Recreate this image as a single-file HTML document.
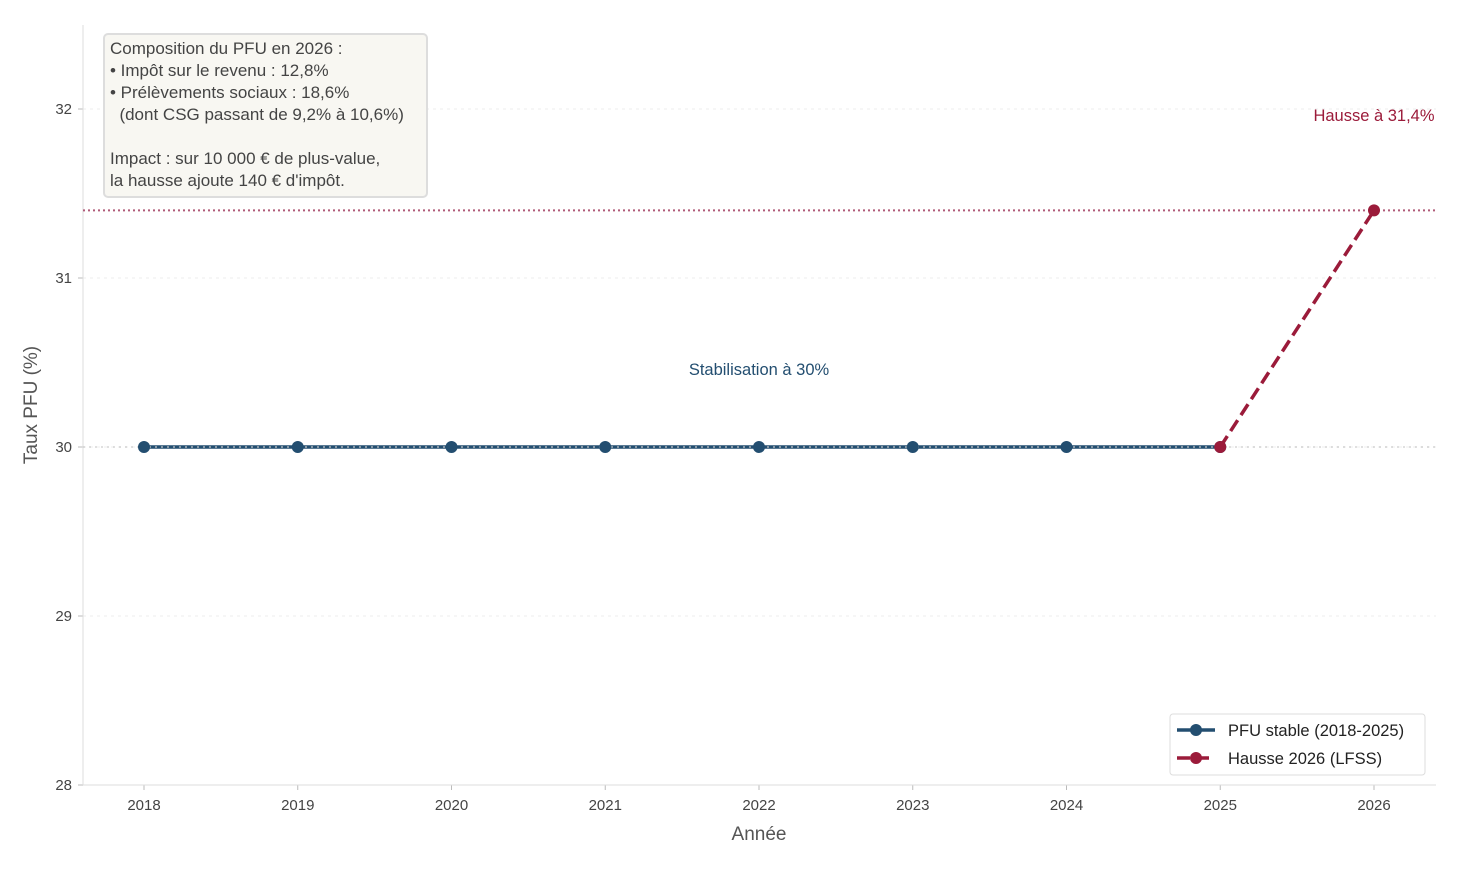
<!DOCTYPE html>
<html><head><meta charset="utf-8"><style>
body{margin:0;background:#fff;}
svg{display:block;font-family:"Liberation Sans",sans-serif;}
text{white-space:pre;}
</style></head><body>
<svg id="chart" width="1470" height="884"></svg>
<script>
const years=[2018,2019,2020,2021,2022,2023,2024,2025,2026];
const stableYears=[2018,2019,2020,2021,2022,2023,2024,2025];
const stableVals=[30,30,30,30,30,30,30,30];
const hausseYears=[2025,2026];
const hausseVals=[30,31.4];
const yTicks=[28,29,30,31,32];
const NS="http://www.w3.org/2000/svg";
const svg=document.getElementById('chart');
const X=y=>144+(y-2018)*153.75;
const Y=v=>785-(v-28)*169;
function el(t,a,p){const e=document.createElementNS(NS,t);for(const k in a)e.setAttribute(k,a[k]);(p||svg).appendChild(e);return e;}
function txt(s,a){const e=el('text',a);e.textContent=s;return e;}
yTicks.forEach(v=>{
 const g=el('line',{x1:83,x2:1436,y1:Y(v),y2:Y(v),stroke:'#eeeeee','stroke-dasharray':'3,4','stroke-width':1});
 
 
 el('line',{x1:78,x2:83,y1:Y(v),y2:Y(v),stroke:'#bbb'});
 const t=txt(String(v),{x:72,y:Y(v)+5,'text-anchor':'end','font-size':15,fill:'#444'});
 
 
});
years.forEach(y=>{
 el('line',{x1:X(y),x2:X(y),y1:785,y2:790,stroke:'#bbb'});
 const t=txt(String(y),{x:X(y),y:810,'text-anchor':'middle','font-size':15,fill:'#444'});
 
 
});
el('line',{x1:83,x2:83,y1:25,y2:785,stroke:'#ddd'});
el('line',{x1:83,x2:1436,y1:785,y2:785,stroke:'#ddd'});
const xt=txt('Année',{x:759,y:840,'text-anchor':'middle','font-size':19,fill:'#555'});


const yt=txt('Taux PFU (%)',{x:0,y:0,transform:'translate(37,405) rotate(-90)','text-anchor':'middle','font-size':19,fill:'#555'});


const rl=el('line',{x1:83,x2:1436,y1:Y(31.4),y2:Y(31.4),stroke:'#b05a78','stroke-dasharray':'2,3','stroke-width':2});


const sp=el('polyline',{points:stableYears.map((y,i)=>X(y)+','+Y(stableVals[i])).join(' '),fill:'none',stroke:'#234e70','stroke-width':3.5});


el('line',{x1:83,x2:1436,y1:Y(30),y2:Y(30),stroke:'#ccc','stroke-dasharray':'2,4','stroke-width':2,opacity:0.6});
stableYears.forEach((y,i)=>{
 const c=el('circle',{cx:X(y),cy:Y(stableVals[i]),r:6,fill:'#234e70'});
 
 
});
const hp=el('polyline',{points:hausseYears.map((y,i)=>X(y)+','+Y(hausseVals[i])).join(' '),fill:'none',stroke:'#9b1b3a','stroke-width':3.5,'stroke-dasharray':'13,6'});


hausseYears.forEach((y,i)=>{
 const c=el('circle',{cx:X(y),cy:Y(hausseVals[i]),r:6,fill:'#9b1b3a'});
 
 
});
const a1=txt('Stabilisation à 30%',{x:759,y:375,'text-anchor':'middle','font-size':16.5,fill:'#234e70'});


const a2=txt('Hausse à 31,4%',{x:1374,y:121,'text-anchor':'middle','font-size':16.5,fill:'#9b1b3a'});


const ib=el('rect',{x:104,y:34,width:323,height:163,rx:4,fill:'#f8f7f2',stroke:'#ddd','stroke-width':2});


const lines=['Composition du PFU en 2026 :','• Impôt sur le revenu : 12,8%','• Prélèvements sociaux : 18,6%','  (dont CSG passant de 9,2% à 10,6%)','','Impact : sur 10 000 € de plus-value,','la hausse ajoute 140 € d\'impôt.'];
lines.forEach((l,i)=>{
 const t=txt(l,{x:110,y:54+i*22,'font-size':17,fill:'#444'});
 
 
});
const lg=el('rect',{x:1170,y:714,width:255,height:61,rx:3,fill:'#fff',stroke:'#ddd'});


el('line',{x1:1177,x2:1215,y1:730,y2:730,stroke:'#234e70','stroke-width':3.5});
el('circle',{cx:1196,cy:730,r:6,fill:'#234e70'});
const l1=txt('PFU stable (2018-2025)',{x:1228,y:736,'font-size':16.5,fill:'#222'});


el('line',{x1:1177,x2:1215,y1:758,y2:758,stroke:'#9b1b3a','stroke-width':3.5,'stroke-dasharray':'13,6'});
el('circle',{cx:1196,cy:758,r:6,fill:'#9b1b3a'});
const l2=txt('Hausse 2026 (LFSS)',{x:1228,y:764,'font-size':16.5,fill:'#222'});


</script>
</body></html>
